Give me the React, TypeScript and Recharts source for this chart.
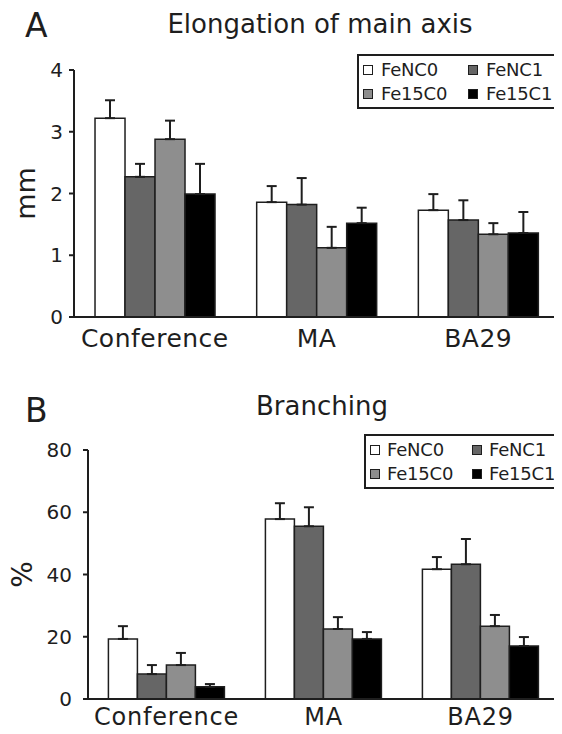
import React from 'react';
import { BarChart, Bar, XAxis, YAxis, ErrorBar, Legend, Label } from 'recharts';

const categories = ['Conference', 'MA', 'BA29'];
const seriesNames = ['FeNC0', 'FeNC1', 'Fe15C0', 'Fe15C1'];
const seriesColors = ['#ffffff', '#666666', '#8e8e8e', '#000000'];

// Panel A: elongation of main axis (mm), mean and upper SEM
const elongFeNC0 = [3.22, 1.86, 1.73];
const elongFeNC1 = [2.27, 1.82, 1.57];
const elongFe15C0 = [2.88, 1.12, 1.34];
const elongFe15C1 = [1.99, 1.52, 1.36];
const elongErrFeNC0 = [0.29, 0.26, 0.26];
const elongErrFeNC1 = [0.21, 0.43, 0.32];
const elongErrFe15C0 = [0.3, 0.34, 0.18];
const elongErrFe15C1 = [0.49, 0.25, 0.34];
const elongTicks = [0, 1, 2, 3, 4];

// Panel B: branching (%)
const branchFeNC0 = [19.3, 57.8, 41.7];
const branchFeNC1 = [8.0, 55.5, 43.3];
const branchFe15C0 = [10.9, 22.5, 23.4];
const branchFe15C1 = [3.9, 19.3, 17.0];
const branchErrFeNC0 = [4.1, 5.1, 3.9];
const branchErrFeNC1 = [2.9, 6.1, 8.1];
const branchErrFe15C0 = [3.9, 3.8, 3.6];
const branchErrFe15C1 = [0.9, 2.2, 2.9];
const branchTicks = [0, 20, 40, 60, 80];

const buildRows = (means: number[][], errs: number[][]) =>
  categories.map((name, i) => {
    const row: Record<string, any> = { name };
    seriesNames.forEach((s, k) => {
      row[s] = means[k][i];
      row[s + '_err'] = [0, errs[k][i]];
    });
    return row;
  });

const elongData = buildRows(
  [elongFeNC0, elongFeNC1, elongFe15C0, elongFe15C1],
  [elongErrFeNC0, elongErrFeNC1, elongErrFe15C0, elongErrFe15C1]
);
const branchData = buildRows(
  [branchFeNC0, branchFeNC1, branchFe15C0, branchFe15C1],
  [branchErrFeNC0, branchErrFeNC1, branchErrFe15C0, branchErrFe15C1]
);

const INK = '#1e1e1e';
const FONT = "'DejaVu Sans', sans-serif";

const renderLegend = (colGap: number, textGap: number) => (props: any) => {
  const payload = [...(props.payload || [])].sort(
    (a: any, b: any) => seriesNames.indexOf(a.value) - seriesNames.indexOf(b.value)
  );
  return (
    <div
      style={{
        border: `2px solid ${INK}`,
        background: '#fff',
        padding: '2px 4px 1px 4px',
        display: 'grid',
        gridTemplateColumns: `${colGap}px auto`,
        fontFamily: FONT,
        fontSize: 18,
        letterSpacing: -0.2,
        lineHeight: '24px',
        color: INK,
        whiteSpace: 'nowrap',
      }}
    >
      {payload.map((p: any) => (
        <div key={p.value} style={{ display: 'flex', alignItems: 'center' }}>
          <span
            style={{
              display: 'inline-block',
              width: 8,
              height: 8,
              border: `1.5px solid ${INK}`,
              background: p.color,
              marginRight: textGap,
            }}
          />
          <span>{p.value}</span>
        </div>
      ))}
    </div>
  );
};

const RotatedTitle = (props: any) => {
  const { viewBox, value, cx, size } = props;
  const cy = viewBox.y + viewBox.height / 2;
  return (
    <text
      x={cx}
      y={cy}
      transform={`rotate(-90 ${cx} ${cy})`}
      textAnchor="middle"
      dominantBaseline="central"
      fontSize={size}
      fill={INK}
      fontFamily={FONT}
    >
      {value}
    </text>
  );
};

const bars = () =>
  seriesNames.map((s, k) => (
    <Bar
      key={s}
      dataKey={s}
      name={s}
      fill={seriesColors[k]}
      stroke={INK}
      strokeWidth={1.5}
      isAnimationActive={false}
    >
      <ErrorBar dataKey={s + '_err'} width={5} stroke={INK} strokeWidth={2} direction="y" />
    </Bar>
  ));

export default function App() {
  return (
    <div
      style={{
        position: 'relative',
        width: 562,
        height: 734,
        margin: '-8px 0 0 -8px',
        background: '#fff',
        fontFamily: FONT,
      }}
    >
      <div style={{ position: 'absolute', left: 0, top: 0 }}>
        <BarChart
          width={562}
          height={365}
          data={elongData}
          margin={{ top: 70, right: 3, left: 0, bottom: 8 }}
          barCategoryGap="13%"
          barGap={0}
        >
          <XAxis
            dataKey="name"
            height={40}
            tickLine={false}
            tickMargin={6}
            axisLine={{ stroke: INK, strokeWidth: 2 }}
            tick={{ fontSize: 25, fill: INK, letterSpacing: 0.5 }}
            interval={0}
          />
          <YAxis
            width={74}
            domain={[0, 4]}
            ticks={elongTicks}
            tickSize={5}
            tickMargin={6}
            tickLine={{ stroke: INK, strokeWidth: 2 }}
            axisLine={{ stroke: INK, strokeWidth: 2 }}
            tick={{ fontSize: 20, fill: INK }}
          >
            <Label value="mm" content={<RotatedTitle cx={25} size={27} />} />
          </YAxis>
          <Legend
            layout="vertical"
            align="center"
            verticalAlign="middle"
            itemSorter={null as any}
            wrapperStyle={{ left: 357, top: 54, width: 203 }}
            content={renderLegend(105, 8)}
          />
          {bars()}
        </BarChart>
      </div>
      <div style={{ position: 'absolute', left: 0, top: 370 }}>
        <BarChart
          width={562}
          height={364}
          data={branchData}
          margin={{ top: 80, right: 3, left: 0, bottom: 5 }}
          barCategoryGap="13%"
          barGap={0}
        >
          <XAxis
            dataKey="name"
            height={30}
            tickLine={false}
            tickMargin={3}
            axisLine={{ stroke: INK, strokeWidth: 2 }}
            tick={{ fontSize: 24, fill: INK, letterSpacing: 0.8 }}
            interval={0}
          />
          <YAxis
            width={88}
            domain={[0, 80]}
            ticks={branchTicks}
            tickSize={5}
            tickMargin={11}
            tickLine={{ stroke: INK, strokeWidth: 2 }}
            axisLine={{ stroke: INK, strokeWidth: 2 }}
            tick={{ fontSize: 20, fill: INK }}
          >
            <Label value="%" content={<RotatedTitle cx={22} size={28} />} />
          </YAxis>
          <Legend
            layout="vertical"
            align="center"
            verticalAlign="middle"
            itemSorter={null as any}
            wrapperStyle={{ left: 364, top: 64, width: 196 }}
            content={renderLegend(102, 7)}
          />
          {bars()}
        </BarChart>
      </div>
      <svg
        width={562}
        height={734}
        style={{ position: 'absolute', left: 0, top: 0, pointerEvents: 'none' }}
      >
        <text x={25} y={37} fontSize={33} fill={INK} fontFamily={FONT}>A</text>
        <text x={320} y={33} fontSize={26} fill={INK} fontFamily={FONT} textAnchor="middle">
          Elongation of main axis
        </text>
        <text x={25} y={422} fontSize={33} fill={INK} fontFamily={FONT}>B</text>
        <text x={322} y={415} fontSize={26} fill={INK} fontFamily={FONT} textAnchor="middle">
          Branching
        </text>
      </svg>
    </div>
  );
}
